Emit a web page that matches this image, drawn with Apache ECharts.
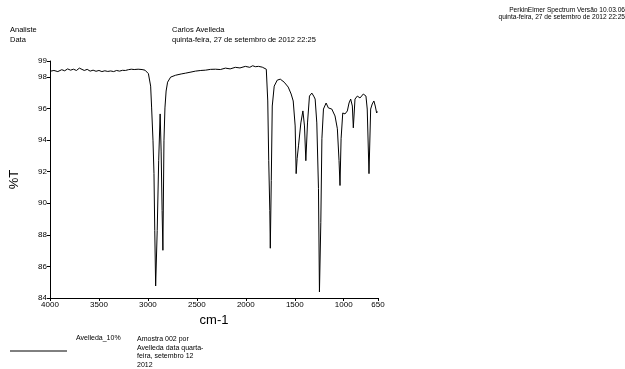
<!DOCTYPE html>
<html>
<head>
<meta charset="utf-8">
<script src="https://cdn.jsdelivr.net/npm/echarts@6/dist/echarts.min.js"></script>
<style>
  html, body { margin: 0; padding: 0; background: #fff; }
  #main { width: 625px; height: 369px; }
</style>
</head>
<body>
<div id="main"></div>
<script>
// wavenumber (cm-1) and transmittance (%T)
const wavenumbers = [
  4000, 3960, 3920, 3880, 3850, 3820, 3790, 3760, 3730, 3700, 3680, 3650, 3620, 3590, 3560,
  3530, 3500, 3470, 3440, 3410, 3380, 3350, 3320, 3290, 3260, 3230, 3200, 3170, 3140, 3100,
  3060, 3030, 3010, 2995, 2972, 2962, 2948, 2938, 2930, 2921, 2905, 2890, 2875, 2865, 2855,
  2847, 2836, 2826, 2814, 2799, 2768, 2717, 2660, 2616, 2560, 2514, 2460, 2412, 2360, 2310,
  2260, 2208, 2160, 2107, 2060, 2005, 1960, 1930, 1903, 1870, 1832, 1791, 1776, 1766, 1755,
  1750, 1740, 1730, 1710, 1679, 1648, 1608, 1567, 1537, 1516, 1496, 1486, 1476, 1462, 1438,
  1417, 1401, 1387, 1370, 1350, 1326, 1307, 1292, 1275, 1258, 1248, 1234, 1223, 1207, 1180,
  1157, 1122, 1089, 1065, 1048, 1038, 1027, 1010, 987, 963, 946, 929, 912, 902, 885,
  861, 834, 800, 773, 760, 742, 725, 709, 692, 678, 664, 655
];
const transmittance = [
  98.35, 98.40, 98.33, 98.45, 98.38, 98.50, 98.42, 98.48, 98.40, 98.55, 98.45, 98.40, 98.47, 98.36, 98.42,
  98.35, 98.40, 98.33, 98.38, 98.34, 98.37, 98.33, 98.40, 98.36, 98.41, 98.40, 98.45, 98.48, 98.46, 98.48,
  98.46, 98.42, 98.40, 98.20, 97.41, 96.03, 93.95, 91.87, 88.28, 84.76, 88.28, 92.69, 95.65, 93.30, 89.54,
  87.02, 93.95, 96.03, 97.10, 97.66, 97.98, 98.10, 98.18, 98.23, 98.30, 98.36, 98.40, 98.42, 98.47, 98.48,
  98.46, 98.55, 98.50, 98.60, 98.56, 98.66, 98.60, 98.70, 98.64, 98.66, 98.61, 98.48, 96.47, 92.69, 89.54,
  87.15, 91.43, 96.15, 97.41, 97.79, 97.85, 97.66, 97.35, 96.91, 96.47, 94.89, 91.87, 92.82, 93.63, 95.08,
  95.84, 94.89, 92.69, 95.08, 96.78, 96.97, 96.78, 96.59, 95.08, 90.93, 84.38, 88.79, 94.08, 95.96, 96.34,
  96.03, 95.96, 95.52, 94.71, 92.69, 91.12, 94.08, 95.71, 95.65, 95.84, 96.34, 96.59, 96.15, 94.77, 96.59,
  96.78, 96.66, 96.91, 96.78, 95.96, 91.87, 95.96, 96.28, 96.47, 96.15, 95.71, 95.80
];
const xTicks = [4000, 3500, 3000, 2500, 2000, 1500, 1000, 650];

const chartDom = document.getElementById('main');
const myChart = echarts.init(chartDom, null, { renderer: 'canvas' });

const font = 'Liberation Sans, Arial, sans-serif';
const spectrum = wavenumbers.map((w, i) => [w, transmittance[i]]);

const option = {
  animation: false,
  backgroundColor: '#ffffff',
  grid: { left: 49, right: 247, top: 61, bottom: 71 },
  xAxis: {
    type: 'value',
    inverse: true,
    min: 650,
    max: 4000,
    name: 'cm-1',
    nameLocation: 'middle',
    nameGap: 16,
    nameTextStyle: { fontFamily: font, fontSize: 13, color: '#000' },
    axisLine: { onZero: false, lineStyle: { color: '#000', width: 1 } },
    axisTick: { customValues: xTicks, length: 3, lineStyle: { color: '#000' } },
    axisLabel: {
      customValues: xTicks,
      formatter: (v) => String(v),
      fontFamily: font, fontSize: 8, color: '#000', margin: 3
    },
    splitLine: { show: false }
  },
  yAxis: {
    type: 'value',
    min: 84,
    max: 99,
    interval: 2,
    name: '%T',
    nameLocation: 'middle',
    nameGap: 29,
    nameTextStyle: { fontFamily: font, fontSize: 13, color: '#000' },
    axisLine: { show: true, lineStyle: { color: '#000', width: 1 } },
    axisTick: { show: true, length: 3, lineStyle: { color: '#000' } },
    axisLabel: { fontFamily: font, fontSize: 8, color: '#000', margin: 3 },
    splitLine: { show: false }
  },
  series: [
    {
      type: 'line',
      data: spectrum,
      showSymbol: false,
      lineStyle: { color: '#000', width: 1 },
      silent: true
    }
  ],
  graphic: [
    { type: 'text', left: 10, top: 26, style: { text: 'Analiste', font: '7.5px ' + font, fill: '#000' } },
    { type: 'text', left: 10, top: 36, style: { text: 'Data', font: '7.5px ' + font, fill: '#000' } },
    { type: 'text', left: 172, top: 26, style: { text: 'Carlos Avelleda', font: '7.5px ' + font, fill: '#000' } },
    { type: 'text', left: 172, top: 36, style: { text: 'quinta-feira, 27 de setembro de 2012 22:25', font: '7.5px ' + font, fill: '#000' } },
    { type: 'text', right: 0, top: 7, style: { text: 'PerkinElmer Spectrum Versão 10.03.06', font: '6.6px ' + font, fill: '#000' } },
    { type: 'text', right: 0, top: 14, style: { text: 'quinta-feira, 27 de setembro de 2012 22:25', font: '6.6px ' + font, fill: '#000' } },
    { type: 'line', shape: { x1: 10, y1: 351, x2: 67, y2: 351 }, style: { stroke: '#000', lineWidth: 1 } },
    { type: 'text', left: 76, top: 335, style: { text: 'Avelleda_10%', font: '7px ' + font, fill: '#000' } },
    {
      type: 'text', left: 137, top: 335,
      style: {
        text: 'Amostra 002 por\nAvelleda data quarta-\nfeira, setembro 12\n2012',
        font: '7px ' + font, lineHeight: 8.5, fill: '#000'
      }
    }
  ]
};

option && myChart.setOption(option);
</script>
</body>
</html>
